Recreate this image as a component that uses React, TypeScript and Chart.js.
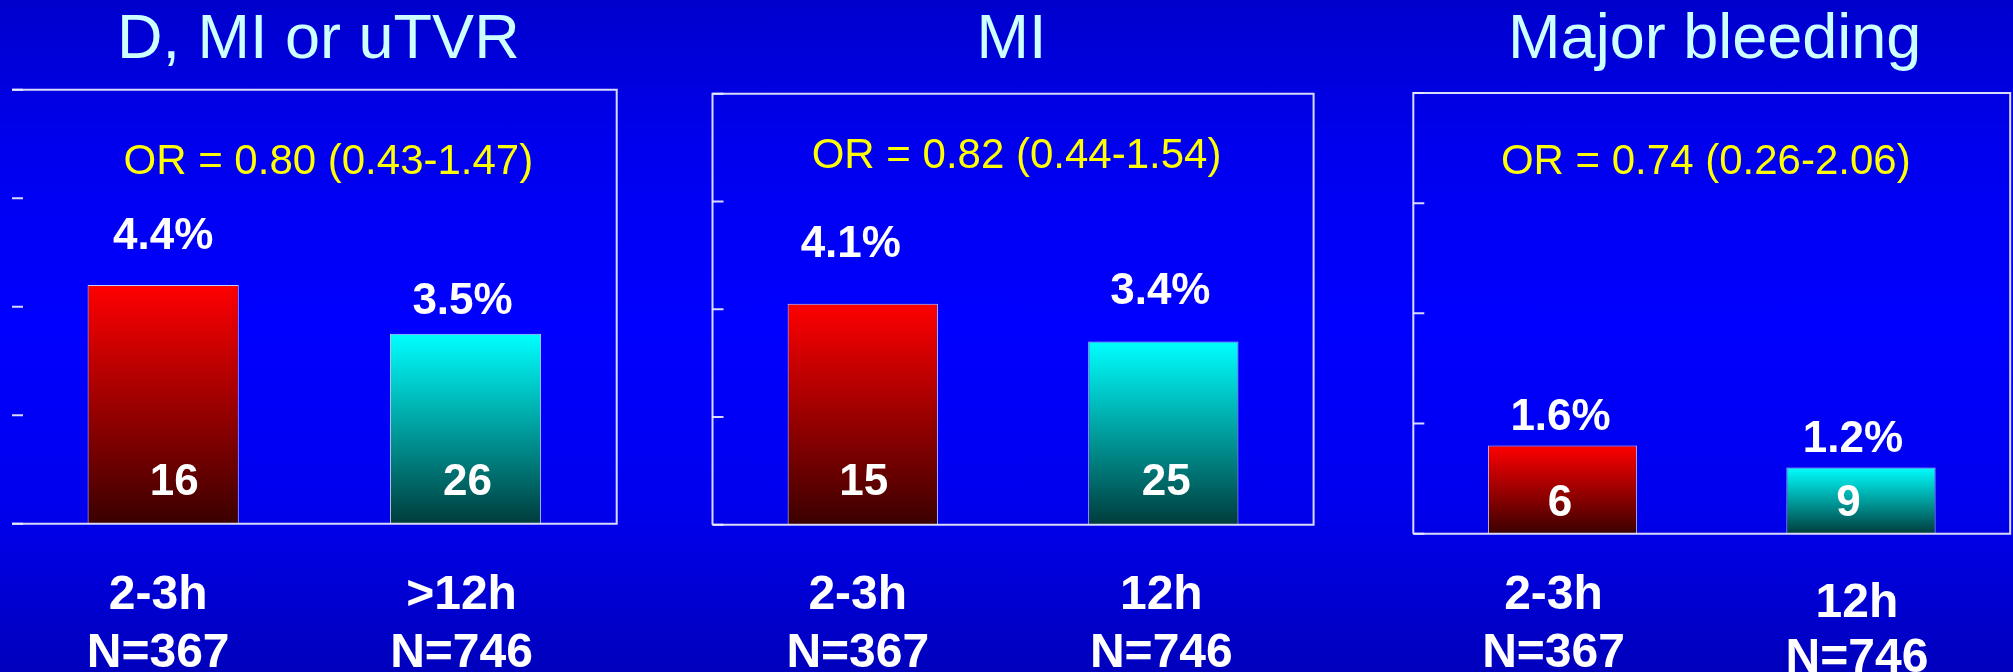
import React, { useEffect, useRef } from "react";
import { Chart, registerables } from "chart.js";

Chart.register(...registerables);

// ---------- data ----------
const panelTitles = ["D, MI or uTVR", "MI", "Major bleeding"];
const oddsRatios = ["OR = 0.80 (0.43-1.47)", "OR = 0.82 (0.44-1.54)", "OR = 0.74 (0.26-2.06)"];
const timingLabels = [
  ["2-3h", ">12h"],
  ["2-3h", "12h"],
  ["2-3h", "12h"],
];
const groupSizes = ["N=367", "N=746"];
const eventRates = [
  [4.4, 3.5],
  [4.1, 3.4],
  [1.6, 1.2],
];
const eventCounts = [
  [16, 26],
  [15, 25],
  [6, 9],
];
const yTicks = [0, 2, 4, 6, 8];

// ---------- styles / layout ----------
const FONT = '"Liberation Sans", Arial, Helvetica, sans-serif';
const LINE_COLOR = "rgba(236,236,255,0.92)";
const barColors = [
  { top: "#ff0000", bottom: "#3a0000" },
  { top: "#00ffff", bottom: "#003c3c" },
];

const CANVAS_H = 672;

const panelLayouts = [
  {
    left: 0,
    width: 680,
    padding: { left: 12, right: 63.3, top: 89.7, bottom: 148.3 },
    leftAxis: false,
    titleDx: 4,
    orDx: 14,
    orBaseline: 174,
    xLabelDx: [-5, -4],
    xLabelDy1: [0, 0],
    xLabelDy2: [0, 0],
    pctGap: [36, 20],
    pctDx: [0, -3],
    cntGap: 29,
    cntDx: [11, 2],
  },
  {
    left: 680,
    width: 680,
    padding: { left: 32.5, right: 46.4, top: 93.7, bottom: 147.3 },
    leftAxis: true,
    titleDx: -1.5,
    orDx: 3.5,
    orBaseline: 168,
    xLabelDx: [-5, -2],
    xLabelDy1: [0, 0],
    xLabelDy2: [0, 0],
    pctGap: [47, 38],
    pctDx: [-12, -3],
    cntGap: 30,
    cntDx: [1, 3],
  },
  {
    left: 1360,
    width: 653,
    padding: { left: 53.3, right: 2.8, top: 93, bottom: 138.3 },
    leftAxis: true,
    titleDx: 3,
    orDx: -6,
    orBaseline: 174,
    xLabelDx: [-9, -4],
    xLabelDy1: [0, 8],
    xLabelDy2: [0, 5],
    pctGap: [16, 16],
    pctDx: [-2, -8],
    cntGap: 18,
    cntDx: [-2.5, -12.5],
  },
];

function makeDecorPlugin(i: number) {
  return {
    id: "slideDecor" + i,
    afterDatasetsDraw(chart: any) {
      const { ctx, chartArea: a, scales } = chart;
      const x = scales.x;
      const y = scales.y;
      const L = panelLayouts[i];
      ctx.save();

      // frame
      ctx.strokeStyle = LINE_COLOR;
      ctx.lineWidth = 2;
      ctx.beginPath();
      if (L.leftAxis) {
        ctx.moveTo(a.left, a.bottom);
        ctx.lineTo(a.left, a.top);
      } else {
        ctx.moveTo(a.left, a.top);
      }
      ctx.lineTo(a.right, a.top);
      ctx.lineTo(a.right, a.bottom);
      ctx.lineTo(a.left, a.bottom);
      ctx.stroke();

      // inside tick marks
      ctx.beginPath();
      yTicks.forEach((t) => {
        const py = y.getPixelForValue(t);
        ctx.moveTo(a.left, py);
        ctx.lineTo(a.left + 11, py);
      });
      ctx.stroke();

      const cx = (a.left + a.right) / 2;
      ctx.textAlign = "center";
      ctx.textBaseline = "alphabetic";

      // title
      ctx.font = `normal 63px ${FONT}`;
      ctx.fillStyle = "#ccffff";
      ctx.fillText(panelTitles[i], cx + L.titleDx, 58);

      // odds ratio
      ctx.font = `normal 42px ${FONT}`;
      ctx.fillStyle = "#ffff00";
      ctx.fillText(oddsRatios[i], cx + L.orDx, L.orBaseline);

      // bar labels and category labels
      const meta = chart.getDatasetMeta(0);
      meta.data.forEach((bar: any, j: number) => {
        const p = bar.getProps(["x", "y", "base"], true);
        ctx.fillStyle = "#ffffff";
        ctx.font = `bold 44px ${FONT}`;
        ctx.fillText(`${eventRates[i][j].toFixed(1)}%`, p.x + L.pctDx[j], p.y - L.pctGap[j]);
        ctx.fillText(String(eventCounts[i][j]), p.x + L.cntDx[j], p.base - L.cntGap);

        ctx.font = `bold 48px ${FONT}`;
        const lx = x.getPixelForValue(j) + L.xLabelDx[j];
        ctx.fillText(timingLabels[i][j], lx, 609 + L.xLabelDy1[j]);
        ctx.fillText(groupSizes[j], lx, 667 + L.xLabelDy2[j]);
      });

      ctx.restore();
    },
  };
}

function Panel({ index }: { index: number }) {
  const ref = useRef<HTMLCanvasElement | null>(null);
  const L = panelLayouts[index];

  useEffect(() => {
    if (!ref.current) return;
    const chart = new Chart(ref.current, {
      type: "bar",
      data: {
        labels: timingLabels[index],
        datasets: [
          {
            data: eventRates[index],
            backgroundColor: (c: any) => {
              const col = barColors[c.dataIndex % barColors.length];
              const ch = c.chart;
              if (!ch.chartArea || c.type !== "data") return col.top;
              const ys = ch.scales.y;
              const top = ys.getPixelForValue(c.raw as number);
              const bottom = ys.getPixelForValue(0);
              const g = ch.ctx.createLinearGradient(0, top, 0, bottom);
              g.addColorStop(0, col.top);
              g.addColorStop(1, col.bottom);
              return g;
            },
            borderColor: "rgba(255,255,255,0.8)",
            borderWidth: 1,
            barPercentage: 1,
            categoryPercentage: 0.5,
          },
        ],
      },
      options: {
        responsive: false,
        animation: false,
        devicePixelRatio: 1,
        layout: { padding: L.padding },
        scales: {
          x: { display: false },
          y: { display: false, min: 0, max: 8 },
        },
        plugins: {
          legend: { display: false },
          tooltip: { enabled: false },
          title: { display: false },
        },
      },
      plugins: [makeDecorPlugin(index)],
    } as any);
    return () => chart.destroy();
  }, [index]);

  return (
    <canvas
      ref={ref}
      width={L.width}
      height={CANVAS_H}
      style={{ position: "absolute", left: L.left, top: 0, width: L.width, height: CANVAS_H, display: "block" }}
    />
  );
}

export default function App() {
  return (
    <div
      style={{
        position: "absolute",
        left: 0,
        top: 0,
        width: 2013,
        height: 672,
        overflow: "hidden",
        background:
          "linear-gradient(to bottom, #0000cc 0%, #0000ee 22%, #0000ff 48%, #0000ee 75%, #0000bc 100%)",
      }}
    >
      {panelTitles.map((_, i) => (
        <Panel key={i} index={i} />
      ))}
    </div>
  );
}
